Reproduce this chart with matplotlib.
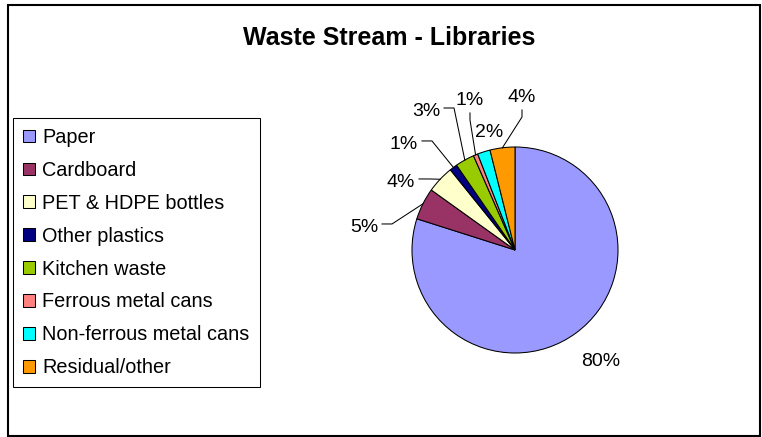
import matplotlib
matplotlib.use("Agg")
import matplotlib.pyplot as plt
import numpy as np
from matplotlib.patches import Rectangle

# data (share in %)
categories = ["Paper", "Cardboard", "PET & HDPE bottles", "Other plastics",
              "Kitchen waste", "Ferrous metal cans", "Non-ferrous metal cans",
              "Residual/other"]
shares = [79.9, 5.0, 4.3, 1.2, 3.0, 0.7, 2.0, 3.9]
colors = ["#9999FF", "#993366", "#FFFFCC", "#000080",
          "#99CC00", "#FF8080", "#00FFFF", "#FF9900"]

# label layout, in pie-radius units from the centre
label_pos = [(0.835, -1.058), (-1.330, 0.243), (-0.971, 0.680), (-0.942, 1.049),
             (-0.728, 1.369), (-0.437, 1.476), (-0.252, 1.165), (0.068, 1.505)]
label_kind = [None, "h", "h", "h", "h", "v", None, "v"]

plt.rcParams["font.family"] = ["Liberation Sans", "DejaVu Sans"]

W, H = 762, 437
cx, cy, R = 515, 250, 103  # pie centre / radius in pixels

fig = plt.figure(figsize=(W / 100, H / 100), dpi=100)
ax = fig.add_axes([0, 0, 1, 1])

wedges, _ = ax.pie(shares, colors=colors, startangle=90, counterclock=False,
                   radius=1, wedgeprops=dict(edgecolor="black", linewidth=0.75))
ax.set_xlim(-cx / R, (W - cx) / R)
ax.set_ylim(-(H - cy) / R, cy / R)
ax.set_aspect("auto")
ax.axis("off")

px = 1 / R  # one pixel in data units
for w, v, (lx, ly), kind in zip(wedges, shares, label_pos, label_kind):
    mid = np.deg2rad((w.theta1 + w.theta2) / 2)
    ex, ey = np.cos(mid), np.sin(mid)
    txt = f"{v:.0f}%"
    if kind == "h":
        ax.text(lx, ly - 7 * px, txt, ha="right", va="baseline", fontsize=14)
        x0 = lx + 4 * px
        ax.plot([x0, x0 + 10 * px, ex], [ly + 1 * px, ly + 1 * px, ey],
                color="black", lw=0.75)
    elif kind == "v":
        ax.text(lx, ly - 7 * px, txt, ha="center", va="baseline", fontsize=14)
        y0 = ly - 15 * px
        ax.plot([lx, lx, ex], [y0, y0 - 7 * px, ey], color="black", lw=0.75)
    else:
        ax.text(lx, ly - 7 * px, txt, ha="center", va="baseline", fontsize=14)

leg = ax.legend(wedges, categories, loc="upper left",
                bbox_to_anchor=(13 / W, 1 - 118 / H), bbox_transform=fig.transFigure,
                borderaxespad=0, frameon=True, fancybox=False, edgecolor="black",
                fontsize=14.3, handlelength=0.6, handleheight=0.6,
                handletextpad=0.38, labelspacing=0.70, borderpad=0.5)
leg.get_frame().set_linewidth(0.75)
leg.get_frame().set_alpha(1)

fig.text(389 / W, 1 - 45 / H, "Waste Stream - Libraries", ha="center",
         va="baseline", fontsize=18, fontweight="bold")

# outer chart border
fig.add_artist(Rectangle((8 / W, 1 / H), 752 / W, 431 / H, fill=False,
                         edgecolor="black", linewidth=1.5,
                         transform=fig.transFigure))

fig.savefig("out.png", dpi=100)
